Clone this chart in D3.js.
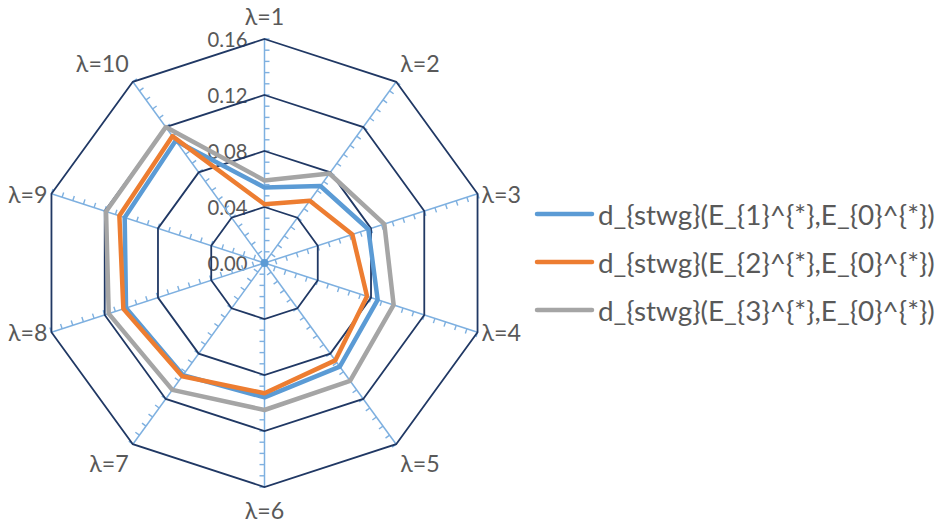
<!DOCTYPE html>
<html>
<head>
<meta charset="utf-8">
<script src="https://cdn.jsdelivr.net/npm/d3@7"></script>
<style>
  html, body { margin: 0; padding: 0; background: #fff; }
  svg { display: block; }
</style>
</head>
<body>
<svg id="chart" width="950" height="523"></svg>
<script>
const categories = ["λ=1","λ=2","λ=3","λ=4","λ=5","λ=6","λ=7","λ=8","λ=9","λ=10"];
const seriesNames = [
  "d_{stwg}(E_{1}^{*},E_{0}^{*})",
  "d_{stwg}(E_{2}^{*},E_{0}^{*})",
  "d_{stwg}(E_{3}^{*},E_{0}^{*})"
];
const series1 = [0.054, 0.068, 0.078, 0.085, 0.0915, 0.096, 0.099, 0.104, 0.105, 0.108];
const series2 = [0.042, 0.055, 0.066, 0.077, 0.086, 0.093, 0.100, 0.106, 0.109, 0.112];
const series3 = [0.059, 0.079, 0.090, 0.097, 0.104, 0.105, 0.112, 0.117, 0.119, 0.120];
const tickValues = [0, 0.04, 0.08, 0.12, 0.16];
const tickLabels = ["0.00", "0.04", "0.08", "0.12", "0.16"];
const minorStep = 0.008;
const colors = ["#5B9BD5", "#ED7D31", "#A5A5A5"];

const svg = d3.select("#chart");
const cx = 264.5, cy = 263, R = 224;
const r = d3.scaleLinear().domain([0, 0.16]).range([0, R]);
const ang = d3.scaleBand().domain(categories).range([0, 2 * Math.PI]);
const g = svg.append("g").attr("transform", `translate(${cx},${cy})`);
const pt = (a, v) => [Math.sin(a) * r(v), -Math.cos(a) * r(v)];

const gridColor = "#203864";
const axisColor = "#7EB0E0";
const textColor = "#595959";
const fontFam = "Lato, 'Open Sans', sans-serif";

function fitFont(sel, base, target) {
  const w = sel.node().getComputedTextLength();
  return base * target / w;
}

// tick labels (behind)
const tl = g.selectAll("text.tl").data(tickValues).join("text")
  .attr("class", "tl")
  .attr("x", -17).attr("y", d => -r(d))
  .attr("text-anchor", "end").attr("dominant-baseline", "central")
  .attr("font-family", fontFam).attr("font-size", 15).attr("fill", textColor)
  .text((d, i) => tickLabels[i]);
tl.attr("font-size", fitFont(tl.filter((d, i) => i === 4), 15, 40));

// spokes
g.selectAll("line.spoke").data(categories).join("line")
  .attr("class", "spoke")
  .attr("x1", 0).attr("y1", 0)
  .attr("x2", d => pt(ang(d), 0.16)[0]).attr("y2", d => pt(ang(d), 0.16)[1])
  .attr("stroke", axisColor).attr("stroke-width", 1.5);

// minor ticks
const minors = d3.range(1, Math.round(0.16 / minorStep) + 1).map(i => i * minorStep);
categories.forEach(c => {
  const a = ang(c);
  const px = Math.cos(a), py = Math.sin(a);
  g.append("g").selectAll("line").data(minors).join("line")
    .attr("x1", v => pt(a, v)[0]).attr("y1", v => pt(a, v)[1])
    .attr("x2", v => pt(a, v)[0] + px * 5).attr("y2", v => pt(a, v)[1] + py * 5)
    .attr("stroke", axisColor).attr("stroke-width", 1.4);
});
g.append("circle").attr("r", 4).attr("fill", "#5B9BD5");

// grid rings
const ring = d3.lineRadial().angle(d => ang(d)).curve(d3.curveLinearClosed);
tickValues.filter(v => v > 0).forEach(v => {
  g.append("path")
    .attr("d", ring.radius(() => r(v))(categories))
    .attr("fill", "none").attr("stroke", gridColor).attr("stroke-width", 1.8);
});

// series
const allSeries = [series1, series2, series3];
const line = d3.lineRadial()
  .angle((d, i) => ang(categories[i]))
  .radius(d => r(d))
  .curve(d3.curveLinearClosed);
allSeries.forEach((s, k) => {
  g.append("path").attr("d", line(s))
    .attr("fill", "none").attr("stroke", colors[k]).attr("stroke-width", 4.5)
    .attr("stroke-linejoin", "round");
});

// category labels
const cat = g.selectAll("text.cat").data(categories).join("text")
  .attr("class", "cat")
  .attr("dominant-baseline", "central")
  .attr("font-family", fontFam).attr("font-size", 17).attr("fill", textColor)
  .text(d => d);
cat.attr("font-size", fitFont(cat.filter(d => d === "λ=10"), 17, 53));
cat.each(function(d) {
    const a = ang(d);
    const s = Math.sin(a), co = Math.cos(a);
    const [vx, vy] = pt(a, 0.16);
    const sx = Math.abs(s) < 0.01 ? 0 : Math.sign(s);
    const dy = Math.abs(co) > 0.5 ? -co * 23 : 0;
    d3.select(this)
      .attr("x", vx + sx * 4)
      .attr("y", vy + dy)
      .attr("text-anchor", sx > 0 ? "start" : (sx < 0 ? "end" : "middle"));
  });

// legend
const legY = d3.scalePoint().domain(seriesNames).range([214, 310]);
const leg = svg.append("g");
seriesNames.forEach((n, k) => {
  leg.append("line")
    .attr("x1", 537).attr("x2", 592)
    .attr("y1", legY(n)).attr("y2", legY(n))
    .attr("stroke", colors[k]).attr("stroke-width", 4.5).attr("stroke-linecap", "round");
  const t = leg.append("text")
    .attr("x", 598).attr("y", legY(n))
    .attr("dominant-baseline", "central")
    .attr("font-family", fontFam).attr("font-size", 18).attr("fill", textColor)
    .text(n);
  t.attr("font-size", fitFont(t, 18, 337));
});
</script>
</body>
</html>
